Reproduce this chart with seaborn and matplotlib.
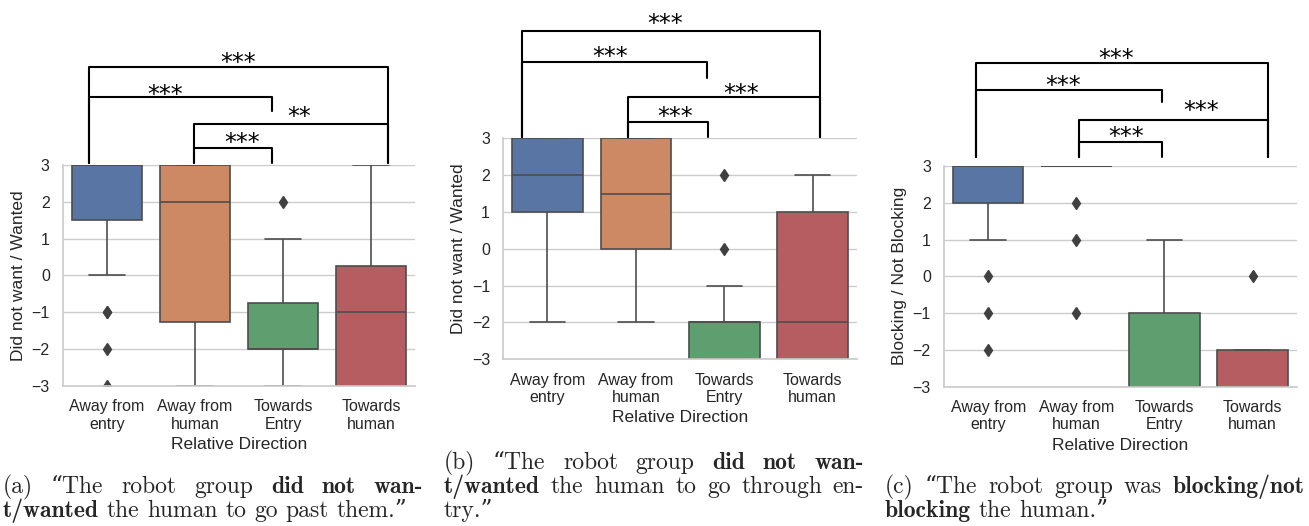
import matplotlib
matplotlib.use("Agg")
import pandas as pd
import seaborn as sns
import matplotlib.pyplot as plt
from matplotlib.transforms import IdentityTransform, offset_copy

directions = ["Away from\nentry", "Away from\nhuman", "Towards\nEntry", "Towards\nhuman"]

# (a) did not want / wanted the human to go past them
past_away_entry = [-3, -2, -1, -1, 0, 2, 2] + [3] * 13
past_away_human = [-3, -3, -2, -2, -2, -1, 0, 1] + [2] * 6 + [3] * 6
past_towards_entry = [-3] * 3 + [-2] * 8 + [-1] * 4 + [0] * 2 + [1] * 2 + [2]
past_towards_human = [-3] * 6 + [-2] * 2 + [-1] * 3 + [0] * 4 + [1] * 2 + [2] + [3] * 2

# (b) did not want / wanted the human to go through entry
entry_away_entry = [-2, 0] + [1] * 4 + [2] * 8 + [3] * 6
entry_away_human = [-2, -1] + [0] * 4 + [1] * 4 + [2] * 4 + [3] * 6
entry_towards_entry = [-3] * 8 + [-2] * 9 + [-1, 0, 2]
entry_towards_human = [-3] * 6 + [-2] * 5 + [-1] * 2 + [0] + [1] * 3 + [2] * 3

# (c) blocking / not blocking the human
block_away_entry = [-2, -1, 0, 1] + [2] * 3 + [3] * 13
block_away_human = [-1, 1, 2] + [3] * 17
block_towards_entry = [-3] * 11 + [-2] * 3 + [-1] * 4 + [0, 1]
block_towards_human = [-3] * 11 + [-2] * 8 + [0]

panels = [
    ("Did not want / Wanted",
     [past_away_entry, past_away_human, past_towards_entry, past_towards_human]),
    ("Did not want / Wanted",
     [entry_away_entry, entry_away_human, entry_towards_entry, entry_towards_human]),
    ("Blocking / Not Blocking",
     [block_away_entry, block_away_human, block_towards_entry, block_towards_human]),
]

# significance brackets: (x left, x right, y bar, left leg bottom, right leg bottom)
brackets = [
    [(-0.205, 3.193, 5.66, 3.05, 3.05), (-0.205, 1.88, 4.85, 3.05, 4.47),
     (0.989, 3.193, 4.11, 3.05, 3.05), (0.989, 1.88, 3.46, 3.05, 3.05)],
    [(-0.292, 3.088, 5.91, 3.04, 3.04), (-0.292, 1.80, 5.08, 3.04, 4.65),
     (0.908, 3.088, 4.11, 3.04, 3.04), (0.908, 1.817, 3.43, 3.04, 3.04)],
    [(-0.137, 3.171, 5.79, 3.25, 3.25), (-0.137, 1.976, 5.07, 3.25, 4.75),
     (1.031, 3.171, 4.25, 3.25, 3.25), (1.031, 1.976, 3.64, 3.25, 3.25)],
]
stars = [
    [("***", 1.489, 5.93), ("***", 0.659, 5.06), ("**", 2.18, 4.47), ("***", 1.534, 3.76)],
    [("***", 1.33, 6.26), ("***", 0.708, 5.37), ("***", 2.187, 4.37), ("***", 1.443, 3.74)],
    [("***", 1.447, 6.08), ("***", 0.846, 5.34), ("***", 2.415, 4.66), ("***", 1.561, 3.96)],
]

captions = [
    [([("(a)", 0), ("\u201cThe", 0), ("robot", 0), ("group", 0), ("did", 1), ("not", 1), ("wan-", 1)], True),
     ([("t/wanted", 1), ("the", 0), ("human", 0), ("to", 0), ("go", 0), ("past", 0), ("them.\u201d", 0)], False)],
    [([("(b)", 0), ("\u201cThe", 0), ("robot", 0), ("group", 0), ("did", 1), ("not", 1), ("wan-", 1)], True),
     ([("t/wanted", 1), ("the", 0), ("human", 0), ("to", 0), ("go", 0), ("through", 0), ("en-", 0)], True),
     ([("try.\u201d", 0)], False)],
    [([("(c)", 0), ("\u201cThe", 0), ("robot", 0), ("group", 0), ("was", 0), ("blocking/not", 1)], True),
     ([("blocking", 1), ("the", 0), ("human.\u201d", 0)], False)],
]

sns.set_theme(style="whitegrid")
plt.rcParams["font.family"] = ["Liberation Sans", "DejaVu Sans"]

fig = plt.figure(figsize=(13.09, 5.26), dpi=100)
axes_rects = [
    (0.0481, 0.2662, 0.2689, 0.4202),
    (0.3845, 0.3169, 0.2700, 0.4202),
    (0.7212, 0.2648, 0.2694, 0.4196),
]

for rect, (ylabel, groups), brs, sts in zip(axes_rects, panels, brackets, stars):
    ax = fig.add_axes(rect)
    rows = []
    for label, values in zip(directions, groups):
        rows += [{"Relative Direction": label, "score": v} for v in values]
    df = pd.DataFrame(rows)
    sns.boxplot(data=df, x="Relative Direction", y="score", hue="Relative Direction",
                palette="deep", legend=False, ax=ax, width=0.8, linewidth=1.2,
                linecolor="0.3", fliersize=6,
                flierprops=dict(marker="d", markerfacecolor="0.25", markeredgecolor="0.25"))
    ax.set_xlim(-0.5, 3.5)
    ax.set_ylim(-3, 3)
    ax.set_yticks(range(-3, 4))
    ax.set_ylabel(ylabel, fontsize=12.5)
    ax.set_xlabel("Relative Direction", fontsize=12.5)
    ax.tick_params(labelsize=11.5)
    sns.despine(ax=ax)

    for x1, x2, y, b1, b2 in brs:
        ax.plot([x1, x1, x2, x2], [b1, y, y, b2], color="black", lw=1.5, clip_on=False)
    trans = offset_copy(ax.transData, fig=fig, y=-13, units="dots")
    for s, x, y in sts:
        ax.text(x, y, s, ha="center", va="baseline", fontsize=17, color="black",
                family=["DejaVu Sans"], transform=trans, clip_on=False)

# captions, laid out word by word so the lines can be justified
cap_size = 17
cap_x = [(3, 423), (444, 864), (885, 1305)]
cap_base = {2: [33, 9], 3: [57, 33, 9]}
renderer = fig.canvas.get_renderer()
for (x0, x1), lines in zip(cap_x, captions):
    for (words, justify), y in zip(lines, cap_base[len(lines)]):
        items = []
        for w, bold in words:
            fam = ["cmb10", "DejaVu Serif"] if bold else ["cmr10", "DejaVu Serif"]
            t = fig.text(0, y, w, family=fam, fontsize=cap_size, va="baseline", ha="left",
                         transform=IdentityTransform())
            items.append((t, t.get_window_extent(renderer).width))
        total = sum(wd for _, wd in items)
        if justify and len(items) > 1:
            gap = (x1 - x0 - total) / (len(items) - 1)
        else:
            gap = cap_size * 100 / 72 * 0.333
        x = x0
        for t, wd in items:
            t.set_x(x)
            x += wd + gap

fig.savefig("out.png", dpi=100)
